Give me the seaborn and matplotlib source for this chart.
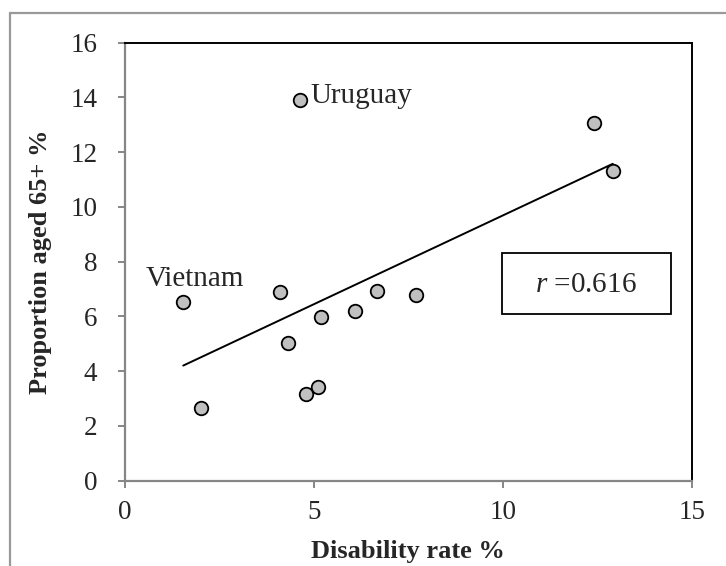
import numpy as np
import pandas as pd
import seaborn as sns
import matplotlib.pyplot as plt
from matplotlib.lines import Line2D
from matplotlib.patches import Rectangle

# values
disability_rate = [4.62, 12.40, 12.91, 1.54, 4.10, 6.67, 7.69, 5.19, 6.10, 4.31, 5.10, 4.79, 2.00]
aged_65 = [13.89, 13.06, 11.32, 6.54, 6.88, 6.92, 6.77, 5.99, 6.20, 5.04, 3.43, 3.16, 2.67]
x_ticks = [0, 5, 10, 15]
y_ticks = [0, 2, 4, 6, 8, 10, 12, 14, 16]
r_value = '0.616'

df = pd.DataFrame({'rate': disability_rate, 'aged': aged_65})

sns.set_style('white')
plt.rcParams['font.family'] = ['Liberation Serif', 'DejaVu Serif']
plt.rcParams['mathtext.fontset'] = 'custom'
plt.rcParams['mathtext.rm'] = 'Liberation Serif'
plt.rcParams['mathtext.it'] = 'Liberation Serif:italic'

fig = plt.figure(figsize=(7.26, 5.66), dpi=100)
ax = fig.add_axes([0.1722, 0.1507, 0.7806, 0.7739])

sns.regplot(data=df, x='rate', y='aged', ci=None, ax=ax,
            scatter_kws={'s': 95, 'color': '#c0c0c0', 'edgecolor': 'black',
                         'linewidths': 1.3, 'alpha': 1, 'zorder': 3},
            line_kws={'color': 'black', 'linewidth': 1.4, 'zorder': 2})

ax.set_xlim(0, 15)
ax.set_ylim(0, 16)
ax.set_xticks(x_ticks)
ax.set_yticks(y_ticks)
ax.set_xlabel('Disability rate %', fontsize=19, fontweight='bold', labelpad=11)
ax.set_ylabel('Proportion aged 65+ %', fontsize=19, fontweight='bold', labelpad=13)

for side in ['left', 'bottom']:
    ax.spines[side].set_color('#868686')
    ax.spines[side].set_linewidth(1.6)
for side in ['top', 'right']:
    ax.spines[side].set_color('black')
    ax.spines[side].set_linewidth(1.4)
    ax.spines[side].set_visible(True)

ax.tick_params(axis='x', direction='out', length=5, width=1.4, color='#868686',
               labelsize=19.5, pad=9, bottom=True)
ax.tick_params(axis='y', direction='out', length=5, width=1.4, color='#868686',
               labelsize=19.5, pad=15, left=True)

ax.text(4.9, 13.8, 'Uruguay', fontsize=21, ha='left', va='baseline')
ax.text(0.556, 7.11, 'Vietnam', fontsize=21, ha='left', va='baseline')

ax.add_patch(Rectangle((0.665, 0.381), 0.298, 0.139, transform=ax.transAxes,
                       fill=False, edgecolor='black', linewidth=1.3, zorder=4))
ax.text(0.814, 0.447, r'$\it{r}$ =' + r_value, transform=ax.transAxes,
        fontsize=21, ha='center', va='center')

# outer frame of the screenshot (top and left edges only)
fig.add_artist(Line2D([10 / 726, 1], [1 - 13 / 566, 1 - 13 / 566], color='#999999',
                      linewidth=1.6, transform=fig.transFigure))
fig.add_artist(Line2D([10 / 726, 10 / 726], [0, 1 - 13 / 566], color='#999999',
                      linewidth=1.6, transform=fig.transFigure))

fig.savefig('out.png', dpi=100)
